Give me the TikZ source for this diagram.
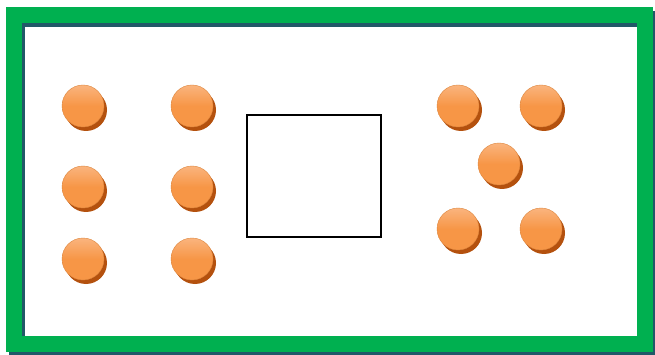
\documentclass[tikz,border=0pt]{standalone}
\usetikzlibrary{shadings}
\definecolor{frame}{HTML}{00B050}
\definecolor{frameshadow}{HTML}{215868}
\definecolor{ball}{HTML}{F79646}
\definecolor{balllight}{HTML}{FAB47E}
\definecolor{ballshadow}{HTML}{B4510E}
\tikzset{
  ballnode/.style={circle, minimum size=42pt, inner sep=0pt, top color=balllight, bottom color=ball, middle color=ball, draw=ball!90!black, line width=0.4pt},
  ballshade/.style={circle, minimum size=42pt, inner sep=0pt, fill=ballshadow},
  boxnode/.style={draw=black, line width=1.3pt, minimum width=134pt, minimum height=122pt, inner sep=0pt}
}
\begin{document}
\begin{tikzpicture}[x=1pt,y=-1pt]
\useasboundingbox (0,0) rectangle (655,355);
\fill[white] (0,0) rectangle (655,355);
% frame shadow and frame
\draw[frameshadow, line width=16pt] (16.5,19) rectangle (647.5,347.5);
\draw[frame, line width=16pt] (13.5,15) rectangle (644.5,343.5);
% central box
\node[boxnode] (box) at (314,176) {};
% balls
\foreach \n/\x/\y in {a/83/106, b/192/106, c/83/187, d/192/187, e/83/259, f/192/259,
  g/458/106, h/541/106, i/499/164, j/458/229, k/541/229}{
  \node[ballshade] (\n s) at (\x+3,\y+4) {};
  \node[ballnode] (\n) at (\x,\y) {};
}
\end{tikzpicture}
\end{document}
